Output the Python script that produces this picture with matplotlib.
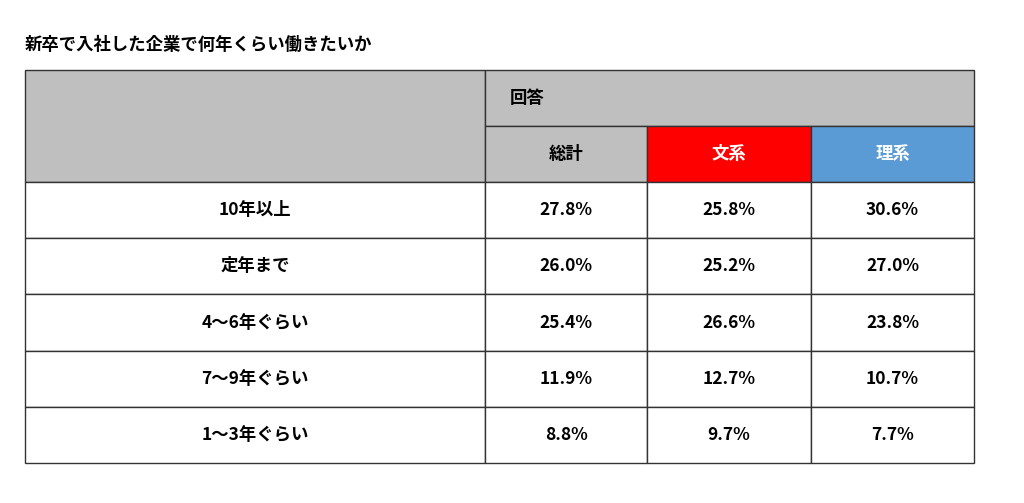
import matplotlib
matplotlib.use("Agg")
import matplotlib.pyplot as plt
from matplotlib.patches import Rectangle

plt.rcParams["font.family"] = "Noto Sans CJK JP"

title = "新卒で入社した企業で何年くらい働きたいか"
group_label = "回答"
columns = ["総計", "文系", "理系"]
rows = ["10年以上", "定年まで", "4～6年ぐらい", "7～9年ぐらい", "1～3年ぐらい"]
total = ["27.8%", "26.0%", "25.4%", "11.9%", "8.8%"]
bunkei = ["25.8%", "25.2%", "26.6%", "12.7%", "9.7%"]
rikei = ["30.6%", "27.0%", "23.8%", "10.7%", "7.7%"]

header_colors = ["#bfbfbf", "#ff0000", "#5b9bd5"]
header_text = ["#000000", "#ffffff", "#ffffff"]

fig = plt.figure(figsize=(10.24, 5.03), dpi=100)
ax = fig.add_axes([0, 0, 1, 1])
ax.set_xlim(0, 1024)
ax.set_ylim(503, 0)
ax.axis("off")

xs = [25, 485, 647, 811, 974]
top, h1, h2 = 70, 126, 182
rh = 56.2
lw = 1.0
fs = 12.5

ax.text(25, 45, title, fontsize=12.5, fontweight="bold", va="center", ha="left")

def cell(x0, y0, x1, y1, fc="white"):
    ax.add_patch(Rectangle((x0, y0), x1 - x0, y1 - y0, facecolor=fc, edgecolor="#333333", lw=lw))

cell(xs[0], top, xs[1], h2, "#bfbfbf")
cell(xs[1], top, xs[4], h1, "#bfbfbf")
ax.text(xs[1] + 25, (top + h1) / 2, group_label, fontsize=fs, fontweight="bold", va="center", ha="left")
for i, c in enumerate(columns):
    cell(xs[i + 1], h1, xs[i + 2], h2, header_colors[i])
    ax.text((xs[i + 1] + xs[i + 2]) / 2, (h1 + h2) / 2, c, fontsize=fs, fontweight="bold",
            va="center", ha="center", color=header_text[i])

data = [total, bunkei, rikei]
for r, name in enumerate(rows):
    y0 = h2 + r * rh
    y1 = y0 + rh
    cell(xs[0], y0, xs[1], y1)
    ax.text((xs[0] + xs[1]) / 2, (y0 + y1) / 2, name, fontsize=fs, fontweight="bold", va="center", ha="center")
    for c in range(3):
        cell(xs[c + 1], y0, xs[c + 2], y1)
        ax.text((xs[c + 1] + xs[c + 2]) / 2, (y0 + y1) / 2, data[c][r], fontsize=fs,
                fontweight="bold", va="center", ha="center")

fig.savefig("out.png", dpi=100)
